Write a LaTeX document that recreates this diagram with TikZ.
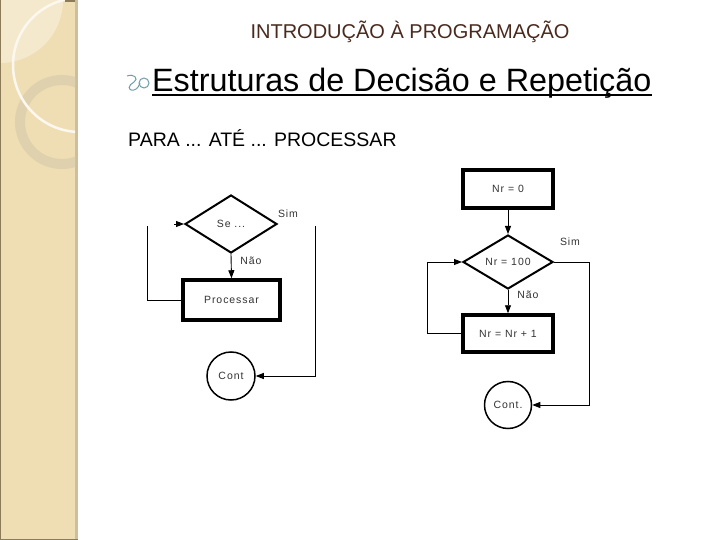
\documentclass[tikz,border=0pt]{standalone}
\usepackage{fontspec}
\setmainfont{Liberation Sans}
\newfontfamily\flowfont[LetterSpace=9]{Liberation Sans}
\usetikzlibrary{shapes.geometric,arrows.meta}
\definecolor{panelbeige}{HTML}{EFDEB3}
\definecolor{panelshade}{HTML}{CDBE9C}
\definecolor{panelline}{HTML}{8C7B58}
\definecolor{ringgray}{HTML}{E0D1AE}
\definecolor{titlebrown}{HTML}{4A2A1E}
\definecolor{bulletteal}{HTML}{6F9EA6}
\begin{document}
\begin{tikzpicture}[x=1pt,y=-1pt,
  flow/.style={font={\flowfont\fontsize{10.5}{12}\selectfont},text=black!80},
  decbox/.style={diamond,draw,line width=2pt,inner sep=0pt,flow},
  procbox/.style={rectangle,draw,line width=3.5pt,inner sep=0pt,flow},
  endcirc/.style={circle,draw,line width=1.5pt,inner sep=0pt,flow},
  link/.style={line width=0.9pt,-{Triangle[length=8pt,width=6pt]}},
  wire/.style={line width=0.9pt}]
\useasboundingbox (0,0) rectangle (720,540);
\fill[white] (0,0) rectangle (720,540);
% side panel
\fill[panelbeige] (0,0) rectangle (75,540);
\fill[panelshade] (75,0) rectangle (78,540);
\begin{scope}
\clip (0,0) rectangle (75,540);
\fill[white,opacity=0.35] (0,0) circle (63);
\draw[ringgray,line width=10pt] (62,122) circle (42);
\draw[white!80!panelbeige,line width=2.5pt] (80,65) circle (67);
\end{scope}
\draw[panelline,line width=1.5pt] (0.5,0) -- (0.5,539.5) -- (78,539.5);
\fill[panelline] (65,0) rectangle (75,2.5);
% headings
\node[anchor=base,inner sep=0pt,text=titlebrown,font=\fontsize{20}{24}\selectfont] (title) at (410,39) {INTRODUÇÃO À PROGRAMAÇÃO};
\draw[bulletteal,line width=1pt] (127,76) .. controls (134,73) and (139,79) .. (134,82) .. controls (128,85) and (127,91) .. (134,90) .. controls (138,89) and (139,85) .. (140,83);
\draw[bulletteal,line width=1pt] (144,83) circle (5);
\node[anchor=base west,inner sep=0pt,font=\fontsize{32.3}{36}\selectfont] (head) at (152,92) {Estruturas de Decisão e Repetição};
\draw[line width=1.6pt] ([yshift=-3pt]head.base west) -- ([yshift=-3pt]head.base east);
\node[anchor=base west,inner sep=0pt,font=\fontsize{19.5}{23}\selectfont] (para) at (128,147) {PARA ... ATÉ ... PROCESSAR};
% first chart
\node[decbox,minimum width=92pt,minimum height=58pt] (se) at (231,224) {Se ...};
\node[procbox,minimum width=97pt,minimum height=40pt] (proc) at (231.5,300) {Processar};
\node[endcirc,minimum size=48pt] (cont) at (231,376) {Cont};
\node[flow] (sim) at (288,214) {Sim};
\node[flow] (nao) at (251,261) {Não};
\coordinate (backA) at (147,226);
\coordinate (outA) at (315,226);
\draw[link] ([xshift=-10pt]se.west) -- (se.west);
\draw[link] (se.south) -- (proc.north);
\draw[wire] (proc.west) -| (backA);
\draw[link] (outA) |- (cont.east);
% second chart
\node[procbox,minimum width=90pt,minimum height=38pt] (start) at (508,189) {Nr = 0};
\node[decbox,minimum width=90pt,minimum height=54pt] (test) at (508,262) {Nr = 100};
\node[procbox,minimum width=90pt,minimum height=37pt] (incr) at (508,333.5) {Nr = Nr + 1};
\node[endcirc,minimum size=47pt] (contB) at (508,405) {Cont.};
\node[flow] (simB) at (570,242) {Sim};
\node[flow] (naoB) at (528,295) {Não};
\coordinate (backB) at (427,333.5);
\coordinate (outB) at (589,262);
\draw[link] (start.south) -- (test.north);
\draw[link] (test.south) -- (incr.north);
\draw[link] (incr.west) -- (backB) |- (test.west);
\draw[link] (test.east) -- (outB) |- (contB.east);
\end{tikzpicture}
\end{document}
